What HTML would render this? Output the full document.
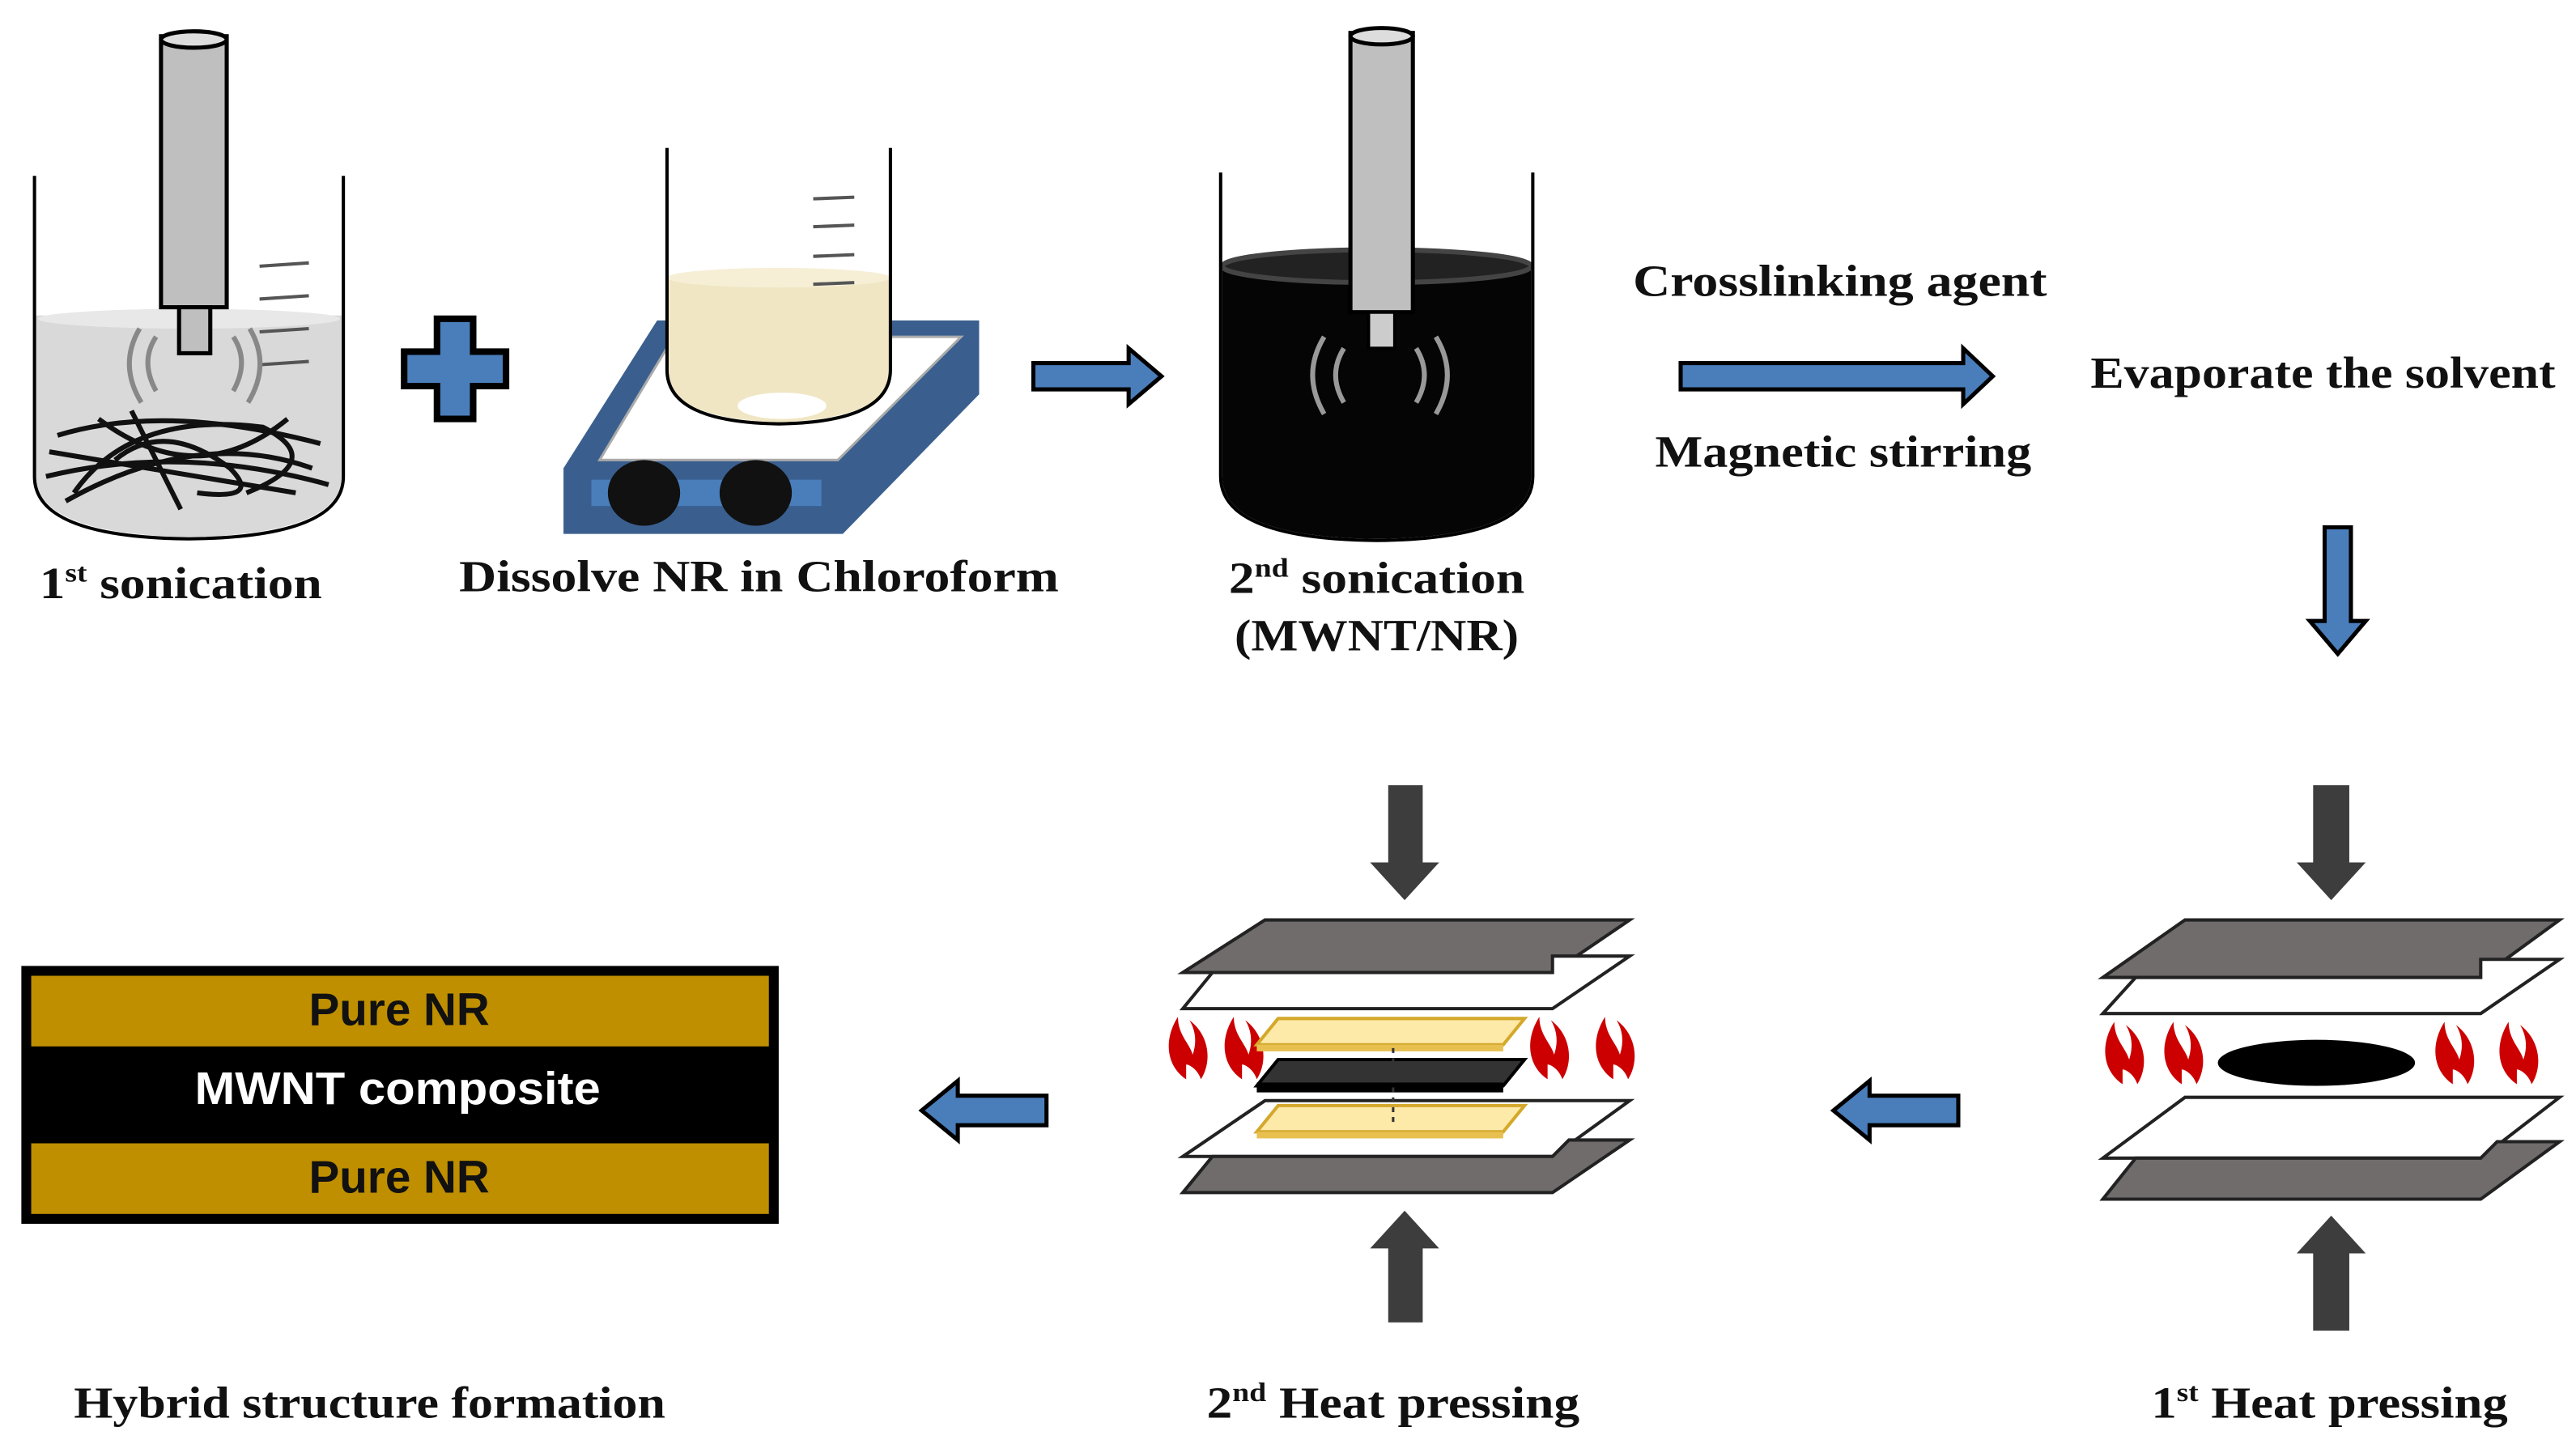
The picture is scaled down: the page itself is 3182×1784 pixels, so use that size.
<!DOCTYPE html>
<html><head><meta charset="utf-8"><style>html,body{margin:0;padding:0;background:#fff}svg{display:block}</style></head>
<body>
<svg width="3182" height="1784" viewBox="0 0 1568 879" xmlns="http://www.w3.org/2000/svg">
<defs>
<g id="flame"><path d="M0,0 C-12,-8 -14,-24 -5,-38 C-5,-27 2,-22 4,-15 C7,-24 5,-31 2,-36 C14,-27 16,-11 9,0 C7,-6 2,-9 0,-9 Z" fill="#cc0000"/></g>
</defs>
<g font-family="Liberation Serif, serif" font-weight="bold" fill="#111" text-anchor="middle">
<!-- Beaker 1 -->
<path d="M22,192 L22,290 Q22,325 115,327 Q208,325 208,290 L208,192 Z" fill="#d9d9d9"/>
<ellipse cx="115" cy="194" rx="92" ry="6" fill="#e8e8e8"/>
<path d="M21,107 L21,290 Q21,327 115,328 Q209,327 209,290 L209,107" fill="none" stroke="#000" stroke-width="2"/>
<g stroke="#555" stroke-width="2"><line x1="158" y1="162" x2="188" y2="160"/><line x1="158" y1="182" x2="188" y2="180"/><line x1="158" y1="202" x2="188" y2="200"/><line x1="158" y1="222" x2="188" y2="220"/></g>
<g fill="none" stroke="#111" stroke-width="3">
<path d="M35,265 Q100,245 195,270"/><path d="M28,290 Q110,270 200,295"/><path d="M45,300 Q80,250 160,260 Q200,280 150,300"/><path d="M60,255 Q120,300 175,255"/><path d="M30,275 L180,300"/><path d="M80,250 L110,310"/><path d="M40,305 Q120,260 190,285"/><path d="M70,280 Q100,255 140,285 Q160,305 120,300"/>
</g>
<rect x="98" y="22" width="40" height="165" fill="#bfbfbf" stroke="#000" stroke-width="2.5"/>
<ellipse cx="118" cy="24" rx="20" ry="5" fill="#ddd" stroke="#000" stroke-width="2.5"/>
<rect x="109" y="187" width="19" height="28" fill="#bfbfbf" stroke="#000" stroke-width="2.5"/>
<g fill="none" stroke="#888" stroke-width="3"><path d="M95,205 Q85,220 95,238"/><path d="M85,200 Q72,222 86,245"/><path d="M142,205 Q152,220 142,238"/><path d="M152,200 Q165,222 151,245"/></g>
<text x="110" y="364" font-size="27" textLength="172" lengthAdjust="spacingAndGlyphs">1<tspan font-size="16" dy="-10">st</tspan><tspan dy="10"> sonication</tspan></text>
<!-- plus -->
<path d="M266,194 L288,194 L288,214 L308,214 L308,235 L288,235 L288,255 L266,255 L266,235 L246,235 L246,214 L266,214 Z" fill="#4a7ebb" stroke="#000" stroke-width="4"/>
<!-- hotplate -->
<path d="M400,195 L596,195 L596,240 L513,325 L343,325 L343,285 Z" fill="#3a5f8f"/>
<path d="M410,205 L585,205 L510,280 L365,280 Z" fill="#fff" stroke="#aaa" stroke-width="1.5"/>
<rect x="360" y="292" width="140" height="16" fill="#4a7ebb"/>
<ellipse cx="392" cy="300" rx="22" ry="20" fill="#111"/><ellipse cx="460" cy="300" rx="22" ry="20" fill="#111"/>
<path d="M406,168 L406,225 Q406,255 474,257 Q542,255 542,225 L542,168 Z" fill="#f0e6c4"/>
<ellipse cx="474" cy="169" rx="68" ry="6" fill="#f6efd6"/>
<path d="M406,90 L406,225 Q406,257 474,258 Q542,257 542,225 L542,90" fill="none" stroke="#000" stroke-width="2"/>
<ellipse cx="476" cy="247" rx="27" ry="8" fill="#fff"/>
<g stroke="#555" stroke-width="2"><line x1="495" y1="121" x2="520" y2="120"/><line x1="495" y1="138" x2="520" y2="137"/><line x1="495" y1="156" x2="520" y2="155"/><line x1="495" y1="173" x2="520" y2="172"/></g>
<text x="462" y="360" font-size="27" textLength="365" lengthAdjust="spacingAndGlyphs">Dissolve  NR in Chloroform</text>
<!-- arrow 1 -->
<path d="M629,221 L687,221 L687,212 L707,229 L687,246 L687,237 L629,237 Z" fill="#4a7ebb" stroke="#000" stroke-width="2.5"/>
<!-- Beaker 3 -->
<path d="M744,162 L744,290 Q744,327 838,328 Q932,327 932,290 L932,162 Z" fill="#050505"/>
<ellipse cx="838" cy="162" rx="94" ry="10" fill="#222" stroke="#444" stroke-width="3"/>
<path d="M743,105 L743,290 Q743,328 838,329 Q933,328 933,290 L933,105" fill="none" stroke="#000" stroke-width="2"/>
<rect x="822" y="20" width="38" height="170" fill="#bfbfbf" stroke="#000" stroke-width="2.5"/>
<ellipse cx="841" cy="22" rx="19" ry="5" fill="#ddd" stroke="#000" stroke-width="2.5"/>
<rect x="833" y="190" width="16" height="22" fill="#ccc" stroke="#000" stroke-width="2"/>
<g fill="none" stroke="#999" stroke-width="3"><path d="M818,212 Q808,228 818,245"/><path d="M806,205 Q792,228 806,252"/><path d="M862,212 Q872,228 862,245"/><path d="M874,205 Q888,228 874,252"/></g>
<text x="838" y="361" font-size="27" textLength="180" lengthAdjust="spacingAndGlyphs">2<tspan font-size="16" dy="-10">nd</tspan><tspan dy="10"> sonication</tspan></text>
<text x="838" y="396" font-size="27" textLength="173" lengthAdjust="spacingAndGlyphs">(MWNT/NR)</text>
<!-- crosslinking -->
<text x="1120" y="180" font-size="27" textLength="252" lengthAdjust="spacingAndGlyphs">Crosslinking  agent</text>
<path d="M1023,221 L1195,221 L1195,212 L1213,229 L1195,246 L1195,237 L1023,237 Z" fill="#4a7ebb" stroke="#000" stroke-width="2.5"/>
<text x="1122" y="284" font-size="27" textLength="229" lengthAdjust="spacingAndGlyphs">Magnetic stirring</text>
<text x="1414" y="236" font-size="27" textLength="283" lengthAdjust="spacingAndGlyphs">Evaporate the solvent</text>
<path d="M1415,321 L1431,321 L1431,378 L1440,378 L1423,398 L1406,378 L1415,378 Z" fill="#4a7ebb" stroke="#000" stroke-width="2.5"/>
<!-- 1st heat press -->
<path d="M1408,478 L1430,478 L1430,525 L1440,525 L1419,548 L1398,525 L1408,525 Z" fill="#3d3d3d"/>
<path d="M1330,560 L1558,560 L1510,595 L1280,595 Z" fill="#706c6c" stroke="#222" stroke-width="2"/>
<path d="M1510,584 L1558,584 L1510,617 L1280,617 L1300,595 L1510,595 Z" fill="#fff" stroke="#222" stroke-width="2"/>
<use href="#flame" x="1292" y="660"/><use href="#flame" x="1328" y="660"/><use href="#flame" x="1493" y="660"/><use href="#flame" x="1532" y="660"/>
<ellipse cx="1410" cy="647" rx="60" ry="14" fill="#000"/>
<path d="M1330,668 L1558,668 L1510,705 L1280,705 Z" fill="#fff" stroke="#222" stroke-width="2"/>
<path d="M1520,695 L1558,695 L1510,730 L1280,730 L1300,705 L1510,705 Z" fill="#706c6c" stroke="#222" stroke-width="2"/>
<path d="M1408,810 L1430,810 L1430,763 L1440,763 L1419,740 L1398,763 L1408,763 Z" fill="#3d3d3d"/>
<text x="1418" y="863" font-size="27" textLength="217" lengthAdjust="spacingAndGlyphs">1<tspan font-size="16" dy="-10">st</tspan><tspan dy="10"> Heat pressing</tspan></text>
<!-- arrow left -->
<path d="M1192,667 L1138,667 L1138,658 L1116,676 L1138,694 L1138,685 L1192,685 Z" fill="#4a7ebb" stroke="#000" stroke-width="2.5"/>
<!-- 2nd heat press -->
<path d="M845,478 L866,478 L866,525 L876,525 L855,548 L834,525 L845,525 Z" fill="#3d3d3d"/>
<path d="M770,560 L992,560 L945,592 L720,592 Z" fill="#706c6c" stroke="#222" stroke-width="2"/>
<path d="M945,582 L992,582 L945,614 L720,614 L738,592 L945,592 Z" fill="#fff" stroke="#222" stroke-width="2"/>
<use href="#flame" x="722" y="657"/><use href="#flame" x="756" y="657"/><use href="#flame" x="942" y="657"/><use href="#flame" x="982" y="657"/>
<path d="M778,620 L928,620 L915,636 L765,636 Z" fill="#fde9a8" stroke="#d4a82a" stroke-width="2"/>
<path d="M765,636 L915,636 L915,640 L765,640 Z" fill="#e8c050"/>
<path d="M778,645 L928,645 L915,661 L765,661 Z" fill="#333" stroke="#000" stroke-width="2"/>
<rect x="765" y="659" width="150" height="6" fill="#000"/>
<path d="M770,670 L992,670 L945,704 L720,704 Z" fill="#fff" stroke="#222" stroke-width="2"/>
<path d="M778,673 L928,673 L915,689 L765,689 Z" fill="#fde9a8" stroke="#d4a82a" stroke-width="2"/>
<rect x="765" y="689" width="150" height="4" fill="#e8c050"/>
<path d="M955,694 L992,694 L945,726 L720,726 L738,704 L945,704 Z" fill="#706c6c" stroke="#222" stroke-width="2"/>
<line x1="848" y1="638" x2="848" y2="686" stroke="#333" stroke-width="1.5" stroke-dasharray="3,3"/>
<path d="M845,805 L866,805 L866,760 L876,760 L855,737 L834,760 L845,760 Z" fill="#3d3d3d"/>
<text x="848" y="863" font-size="27" textLength="227" lengthAdjust="spacingAndGlyphs">2<tspan font-size="16" dy="-10">nd</tspan><tspan dy="10"> Heat pressing</tspan></text>
<path d="M637,667 L583,667 L583,658 L561,676 L583,694 L583,685 L637,685 Z" fill="#4a7ebb" stroke="#000" stroke-width="2.5"/>
<!-- composite -->
<rect x="15" y="590" width="457" height="153" fill="#000" stroke="#000" stroke-width="4"/>
<rect x="19" y="594" width="449" height="43" fill="#bf8f00"/>
<rect x="19" y="696" width="449" height="43" fill="#bf8f00"/>
<g font-family="Liberation Sans, sans-serif" font-size="28">
<text x="243" y="624" fill="#111" textLength="110" lengthAdjust="spacingAndGlyphs">Pure NR</text>
<text x="242" y="672" fill="#fff" textLength="247" lengthAdjust="spacingAndGlyphs">MWNT composite</text>
<text x="243" y="726" fill="#111" textLength="110" lengthAdjust="spacingAndGlyphs">Pure NR</text>
</g>
<text x="225" y="863" font-size="27" textLength="360" lengthAdjust="spacingAndGlyphs">Hybrid structure formation</text>
</g>
</svg>
</body></html>
